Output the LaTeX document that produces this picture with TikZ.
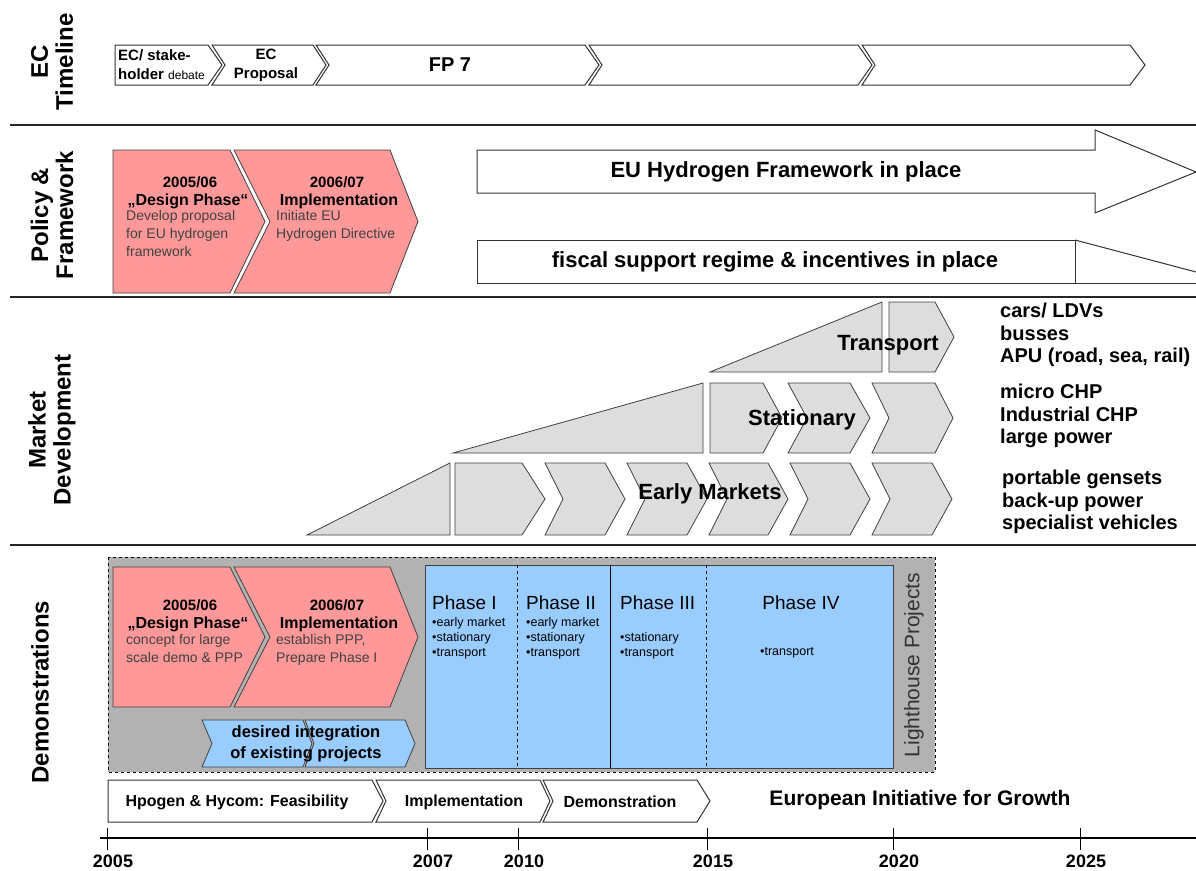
\documentclass[tikz,border=0pt]{standalone}
\usepackage{fontspec}
\setmainfont{Liberation Sans}
\definecolor{pinkf}{RGB}{255,153,153}
\definecolor{grayb}{RGB}{178,178,178}
\definecolor{grayl}{RGB}{221,221,221}
\definecolor{bluef}{RGB}{153,204,255}
\newcommand\chv[7]{%
  \draw[#1] (#2,#5) -- (#3,#5) -- (#4,{(#5+#6)/2}) -- (#3,#6) -- (#2,#6) -- ({#2+#7},{(#5+#6)/2}) -- cycle;}
\tikzset{
  tl/.style={draw=black!80, line width=1pt, fill=white},
  pk/.style={draw=black!75, line width=0.8pt, fill=pinkf},
  gr/.style={draw=black!75, line width=0.8pt, fill=grayl},
  bl/.style={draw=black!75, line width=0.8pt, fill=bluef},
  sep/.style={line width=1.3pt, black!85},
  sect/.style={rotate=90, align=center, font=\bfseries\fontsize{24}{25}\selectfont, inner sep=0pt},
  txt/.style={inner sep=0pt},
  body/.style={inner sep=0pt, anchor=north west, align=left, text=black!75, font=\fontsize{14}{18}\selectfont},
  listr/.style={inner sep=0pt, anchor=west, align=left, font=\bfseries\fontsize{20}{22.5}\selectfont},
  bul/.style={inner sep=0pt, anchor=north west, align=left, font=\fontsize{12.5}{15}\selectfont},
  tick/.style={line width=1pt},
  yr/.style={inner sep=0pt, font=\bfseries\fontsize{18}{18}\selectfont}
}
\begin{document}
\begin{tikzpicture}[x=1pt,y=-1pt]
\useasboundingbox (0,0) rectangle (1196,870);

% ---------- section separators
\draw[sep] (10,125) -- (1196,125);
\draw[sep] (10,297) -- (1196,297);
\draw[sep] (10,545) -- (1196,545);

% ---------- section labels
\node[sect] (lEC) at (52,62) {EC\\Timeline};
\node[sect] (lPF) at (52,215) {Policy \&\\Framework};
\node[sect] (lMD) at (52,430) {Market\\Development};
\node[sect] (lDE) at (40,692) {Demonstrations};

% ---------- EC timeline
\chv{tl}{115}{208}{222}{45}{85}{0}
\chv{tl}{212}{313}{326}{45}{85}{13}
\chv{tl}{316}{585}{599}{45}{85}{13}
\chv{tl}{589}{858}{872}{45}{85}{13}
\chv{tl}{862}{1130}{1145}{45}{85}{13}
\node[txt, anchor=west, align=left, font=\bfseries\fontsize{15}{19}\selectfont] (t1) at (118,65) {EC/ stake-\\holder {\mdseries\fontsize{12}{12}\selectfont debate}};
\node[txt, align=center, font=\bfseries\fontsize{15}{19}\selectfont] (t2) at (266,65) {EC\\Proposal};
\node[txt, font=\bfseries\fontsize{20}{20}\selectfont] (t3) at (450,65) {FP 7};

% ---------- Policy & Framework
\chv{pk}{113}{230}{265}{150}{293}{0}
\chv{pk}{234}{390}{418}{150}{293}{36}
\node[txt, font=\bfseries\fontsize{15}{15}\selectfont] (p1a) at (190,182) {2005/06};
\node[txt, font=\bfseries\fontsize{16}{16}\selectfont] (p1b) at (188,201) {„Design Phase“};
\node[body] (p1c) at (126,210) {Develop proposal\\for EU hydrogen\\framework};
\node[txt, font=\bfseries\fontsize{15}{15}\selectfont] (p2a) at (337,182) {2006/07};
\node[txt, font=\bfseries\fontsize{16}{16}\selectfont] (p2b) at (339,201) {Implementation};
\node[body] (p2c) at (276,210) {Initiate EU\\Hydrogen Directive};

\draw[tl] (477,150) -- (1095,150) -- (1095,130) -- (1196,172) -- (1095,213) -- (1095,193) -- (477,193) -- cycle;
\node[txt, font=\bfseries\fontsize{22}{22}\selectfont] (fw) at (786,172) {EU Hydrogen Framework in place};
\draw[tl] (477,240) rectangle (1075,283);
\draw[tl] (1075,240) -- (1196,272);
\draw[tl] (1075,283) -- (1196,283);
\node[txt, font=\bfseries\fontsize{22}{22}\selectfont] (fi) at (775,262) {fiscal support regime \& incentives in place};

% ---------- Market development
\draw[gr] (710,372) -- (882,302) -- (882,372) -- cycle;
\chv{gr}{889}{935}{954}{302}{372}{0}
\draw[gr] (453,453) -- (703,383) -- (703,453) -- cycle;
\chv{gr}{710}{763}{782}{383}{453}{0}
\chv{gr}{788}{850}{870}{383}{453}{19}
\chv{gr}{872}{935}{953}{383}{453}{17}
\draw[gr] (307,535) -- (450,463) -- (450,535) -- cycle;
\chv{gr}{455}{522}{545}{463}{535}{0}
\chv{gr}{545}{605}{625}{463}{535}{18}
\chv{gr}{627}{687}{707}{463}{535}{18}
\chv{gr}{709}{768}{788}{463}{535}{18}
\chv{gr}{790}{850}{870}{463}{535}{18}
\chv{gr}{872}{932}{952}{463}{535}{18}
\node[txt, font=\bfseries\fontsize{22}{22}\selectfont] (mT) at (888,345) {Transport};
\node[txt, font=\bfseries\fontsize{22}{22}\selectfont] (mS) at (802,420) {Stationary};
\node[txt, font=\bfseries\fontsize{22}{22}\selectfont] (mE) at (710,494) {Early Markets};
\node[listr] (r1) at (1000,335) {cars/ LDVs\\busses\\APU (road, sea, rail)};
\node[listr] (r2) at (1000,416) {micro CHP\\Industrial CHP\\large power};
\node[listr] (r3) at (1002,502) {portable gensets\\back-up power\\specialist vehicles};

% ---------- Demonstrations
\draw[dashed, line width=0.9pt, fill=grayb] (108,557) rectangle (935,772);
\chv{pk}{113}{230}{265}{567}{707}{0}
\chv{pk}{234}{390}{418}{567}{707}{36}
\node[txt, font=\bfseries\fontsize{15}{15}\selectfont] (d1a) at (190,605) {2005/06};
\node[txt, font=\bfseries\fontsize{16}{16}\selectfont] (d1b) at (188,624) {„Design Phase“};
\node[body] (d1c) at (126,634) {concept for large\\scale demo \& PPP};
\node[txt, font=\bfseries\fontsize{15}{15}\selectfont] (d2a) at (337,605) {2006/07};
\node[txt, font=\bfseries\fontsize{16}{16}\selectfont] (d2b) at (339,624) {Implementation};
\node[body] (d2c) at (276,634) {establish PPP,\\Prepare Phase I};

\chv{bl}{202}{303}{312}{720}{767}{10}
\chv{bl}{305}{405}{415}{720}{767}{9}
\node[txt, align=center, font=\bfseries\fontsize{16.5}{21}\selectfont] (di) at (306,744) {desired integration\\of existing projects};

\draw[bl] (425,565) rectangle (893,768);
\draw[dashed, line width=0.8pt] (517,565) -- (517,768);
\draw[line width=0.8pt] (610,565) -- (610,768);
\draw[dashed, line width=0.8pt] (706,565) -- (706,768);
\node[txt, anchor=west, font=\fontsize{19}{19}\selectfont] (ph1) at (432,603) {Phase I};
\node[txt, anchor=west, font=\fontsize{19}{19}\selectfont] (ph2) at (526,603) {Phase II};
\node[txt, anchor=west, font=\fontsize{19}{19}\selectfont] (ph3) at (620,603) {Phase III};
\node[txt, font=\fontsize{19}{19}\selectfont] (ph4) at (801,603) {Phase IV};
\node[bul] (b1) at (432,617) {•early market\\•stationary\\•transport};
\node[bul] (b2) at (526,617) {•early market\\•stationary\\•transport};
\node[bul] (b3) at (620,632) {•stationary\\•transport};
\node[bul] (b4) at (760,647) {•transport};
\node[txt, rotate=90, text=black!80, font=\fontsize{21}{21}\selectfont] (lh) at (914,665) {Lighthouse Projects};

% ---------- bottom row
\chv{tl}{108}{372}{383}{780}{822}{0}
\chv{tl}{376}{540}{550}{780}{822}{10}
\chv{tl}{543}{697}{710}{780}{822}{10}
\node[txt, font=\bfseries\fontsize{16}{16}\selectfont] (h1) at (237,802) {Hpogen \& Hycom: Feasibility};
\node[txt, font=\bfseries\fontsize{16}{16}\selectfont] (h2) at (464,802) {Implementation};
\node[txt, font=\bfseries\fontsize{16}{16}\selectfont] (h3) at (620,802) {Demonstration};
\node[txt, font=\bfseries\fontsize{21}{21}\selectfont] (eig) at (920,800) {European Initiative for Growth};

% ---------- axis
\draw[line width=1.2pt] (100,838) -- (1196,838);
\foreach \x/\yy in {107/2005,427/2007,518/2010,707/2015,893/2020,1080/2025}{
  \draw[tick] (\x,828) -- (\x,850);
  \node[yr] (y\yy) at (\x+6,861) {\yy};
}
\end{tikzpicture}
\end{document}
